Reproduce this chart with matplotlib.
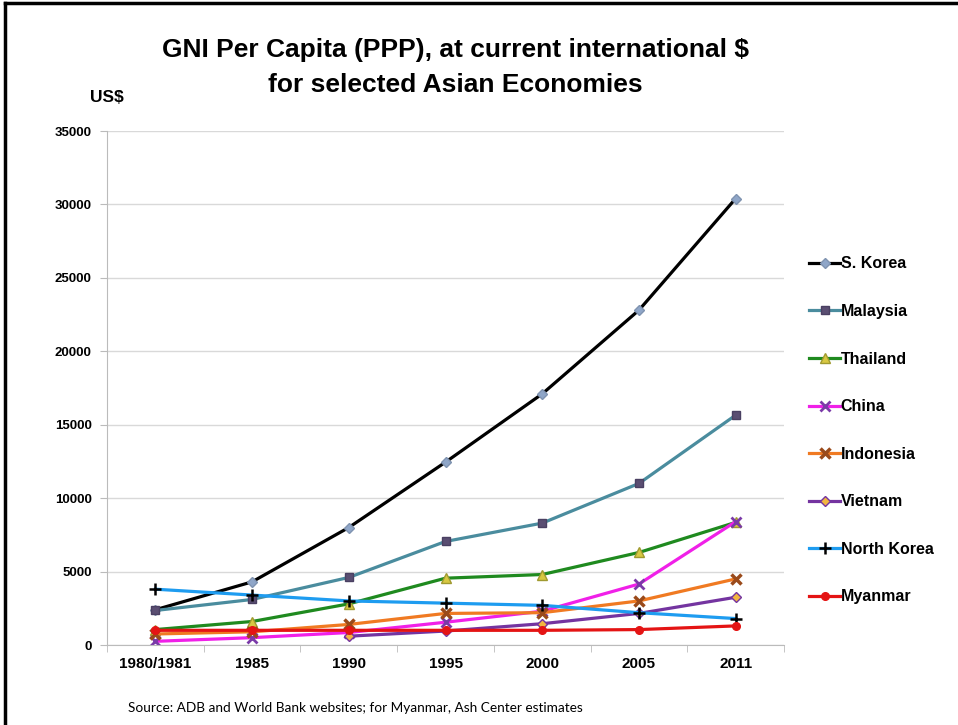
import matplotlib
matplotlib.use("Agg")
import matplotlib.pyplot as plt
import numpy as np
from matplotlib.lines import Line2D

categories = ["1980/1981", "1985", "1990", "1995", "2000", "2005", "2011"]
s_korea   = [2400, 4300, 8000, 12450, 17100, 22800, 30400]
malaysia  = [2350, 3100, 4600, 7050, 8300, 11000, 15650]
thailand  = [1050, 1600, 2800, 4550, 4800, 6300, 8350]
china     = [250, 500, 850, 1550, 2300, 4150, 8400]
indonesia = [750, 900, 1400, 2150, 2200, 3000, 4500]
vietnam   = [np.nan, np.nan, 600, 950, 1450, 2150, 3250]
n_korea   = [3800, 3400, 3000, 2850, 2700, 2200, 1800]
myanmar   = [1000, 1000, 1000, 1000, 1000, 1050, 1300]
yticks = [0, 5000, 10000, 15000, 20000, 25000, 30000, 35000]

series = [
    ("S. Korea", s_korea, dict(color="#000000", marker="D", mfc="#8FA6C8", mec="#7F93B0", ms=5)),
    ("Malaysia", malaysia, dict(color="#4A8C9E", marker="s", mfc="#5A4E72", mec="#4A4062", ms=5.5)),
    ("Thailand", thailand, dict(color="#1F8A1F", marker="^", mfc="#D8C842", mec="#A09A30", ms=7)),
    ("China", china, dict(color="#F020E8", marker="x", mfc="#7A3AA8", mec="#7A3AA8", ms=7, mew=2)),
    ("Indonesia", indonesia, dict(color="#F07A22", marker="x", mfc="#9A4A1A", mec="#9A4A1A", ms=7, mew=2.5)),
    ("Vietnam", vietnam, dict(color="#7434A0", marker="D", mfc="#F2B640", mec="#7434A0", ms=5.5)),
    ("North Korea", n_korea, dict(color="#1E9CF0", marker="+", mfc="#000000", mec="#000000", ms=8, mew=1.8)),
    ("Myanmar", myanmar, dict(color="#E41414", marker="o", mfc="#E41414", mec="#E41414", ms=5.5)),
]

fig = plt.figure(figsize=(9.58, 7.25), dpi=100)
ax = fig.add_axes([107/958, 1-645/725, (784-107)/958, (645-131)/725])

x = np.arange(len(categories))
handles = []
for name, vals, st in series:
    ln, = ax.plot(x, vals, lw=2.3, label=name, **st)
    handles.append(ln)

ax.set_xlim(-0.5, len(categories) - 0.5)
ax.set_ylim(0, 35000)
ax.set_yticks(yticks)
ax.set_yticklabels([str(v) for v in yticks], fontsize=9.5, fontweight="bold", family="Liberation Sans")
ax.set_xticks(x)
ax.set_xticklabels(categories, fontsize=11, fontweight="bold", family="Liberation Sans")
ax.tick_params(axis="x", which="major", length=0, pad=9)
ax.set_xticks(np.arange(-0.5, len(categories)), minor=True)
ax.tick_params(axis="x", which="minor", length=5, color="#BBBBBB", direction="out")
ax.tick_params(axis="y", length=5, color="#BBBBBB", pad=6)
ax.yaxis.grid(True, color="#D9D9D9", lw=1)
ax.set_axisbelow(True)
for s in ["top", "right"]:
    ax.spines[s].set_visible(False)
for s in ["left", "bottom"]:
    ax.spines[s].set_color("#BBBBBB")

leg = fig.legend(handles=handles, loc="upper left", bbox_to_anchor=(803/958, 1-250/725),
                 frameon=False, prop=dict(family="Liberation Sans", weight="bold", size=11.5),
                 handlelength=1.9, handletextpad=0.05, labelspacing=2.04, borderaxespad=0)

fig.text(455/958, 1-50/725, "GNI Per Capita (PPP), at current international $",
         ha="center", va="center", fontsize=19, fontweight="bold", family="Liberation Sans")
fig.text(455/958, 1-85/725, "for selected Asian Economies",
         ha="center", va="center", fontsize=19, fontweight="bold", family="Liberation Sans")
fig.text(90/958, 1-98/725, "US$", ha="left", va="center", fontsize=12.5, fontweight="bold",
         family="Liberation Sans")
fig.text(128/958, 1-708/725, "Source: ADB and World Bank websites; for Myanmar, Ash Center estimates",
         ha="left", va="center", fontsize=9.8, family="Lato")

# border lines (top and left)
fig.add_artist(Line2D([5/958, 1], [1-3/725, 1-3/725], color="black", lw=2.5, transform=fig.transFigure))
fig.add_artist(Line2D([5/958, 5/958], [0, 1-3/725], color="black", lw=2.5, transform=fig.transFigure))

fig.savefig("out.png", dpi=100)
